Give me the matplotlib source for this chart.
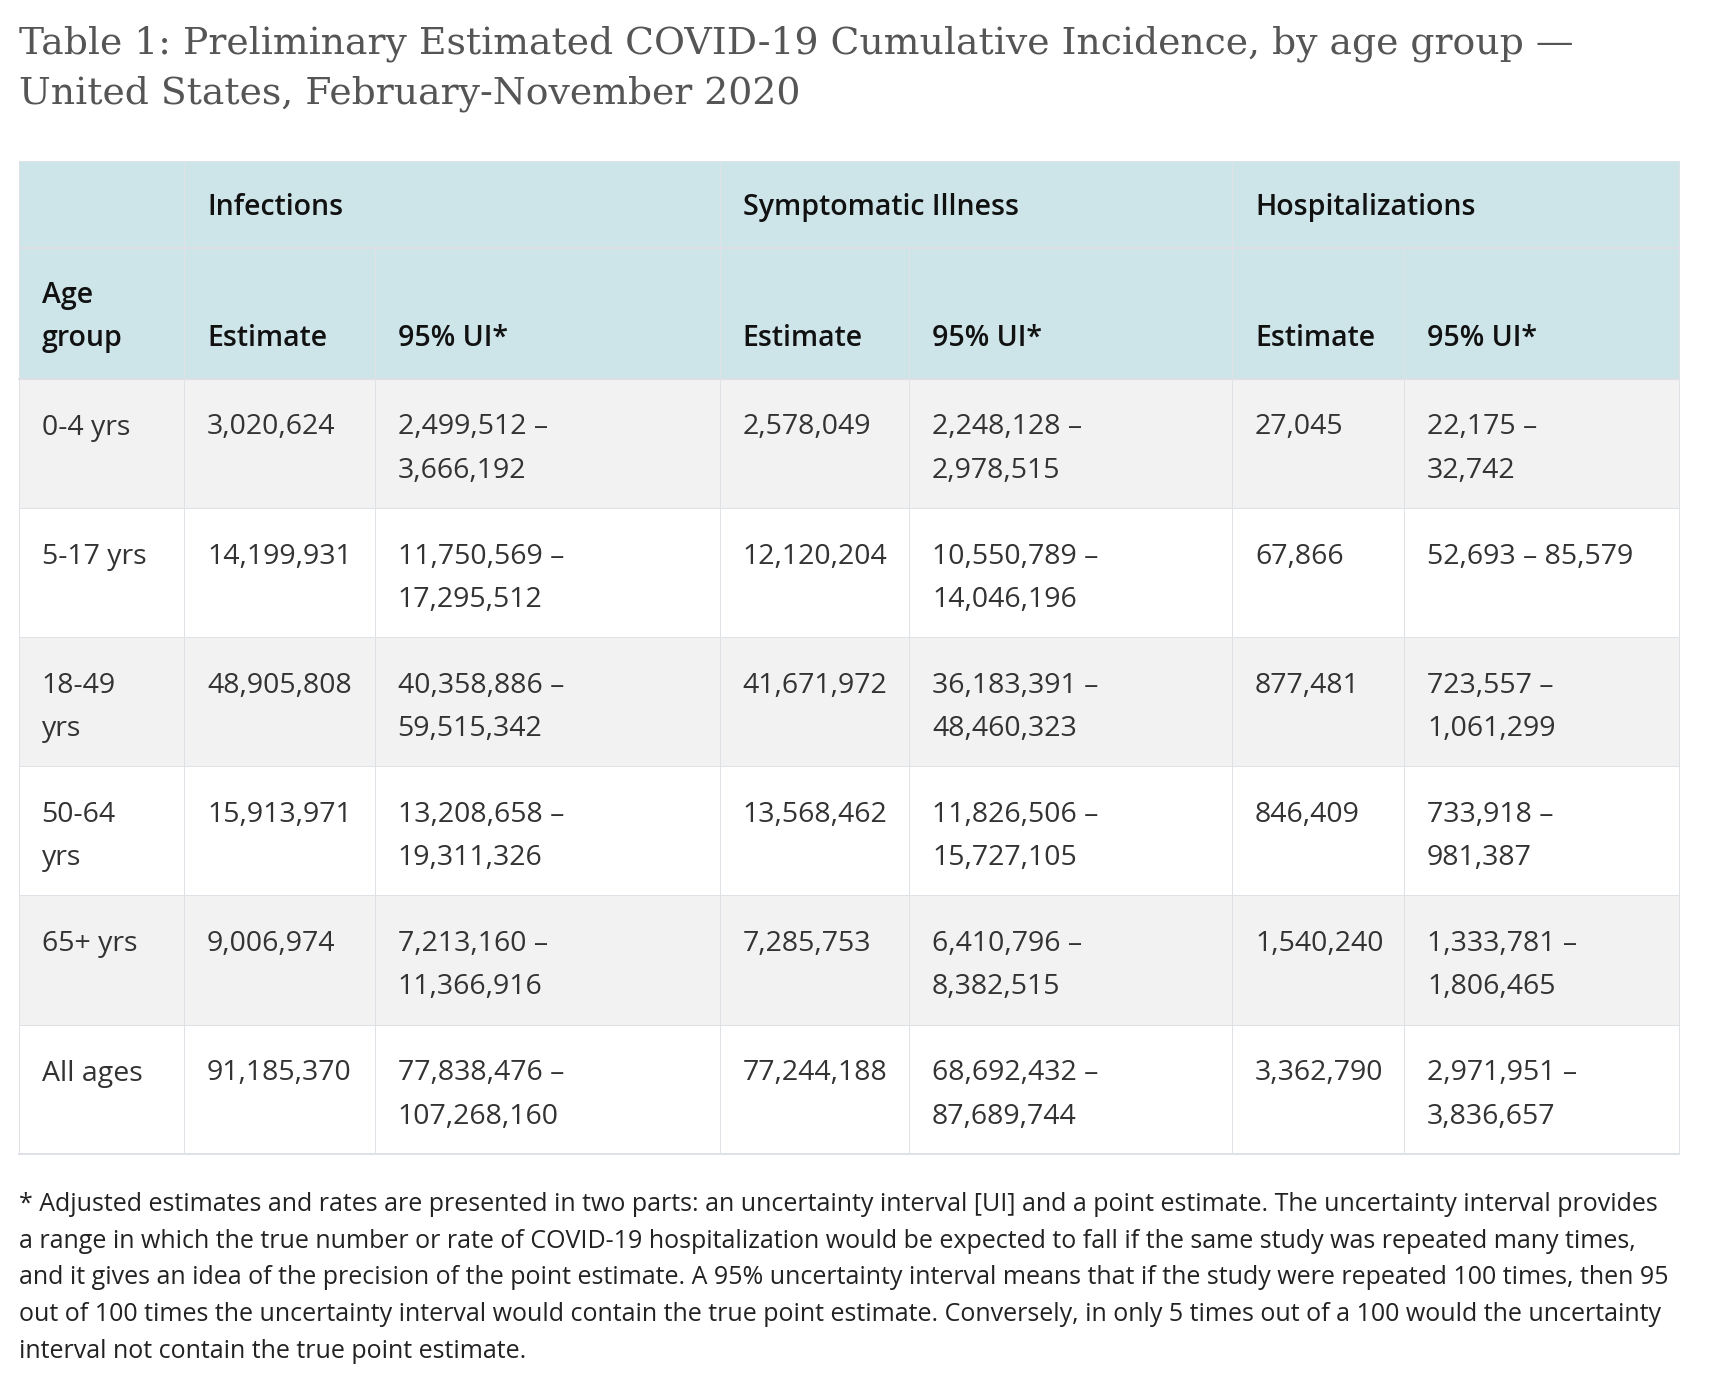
import matplotlib
matplotlib.use("Agg")
import matplotlib.pyplot as plt
from matplotlib.patches import Rectangle

# ---------------- data ----------------
title_lines = [
    "Table 1: Preliminary Estimated COVID-19 Cumulative Incidence, by age group \u2014",
    "United States, February-November 2020",
]
groups = ["Infections", "Symptomatic Illness", "Hospitalizations"]
sub_headers = ["Estimate", "95% UI*"]
age_header = "Age\ngroup"
age_groups = ["0-4 yrs", "5-17 yrs", "18-49\nyrs", "50-64\nyrs", "65+ yrs", "All ages"]

inf_est = ["3,020,624", "14,199,931", "48,905,808", "15,913,971", "9,006,974", "91,185,370"]
inf_ui = ["2,499,512 \u2013\n3,666,192", "11,750,569 \u2013\n17,295,512", "40,358,886 \u2013\n59,515,342",
          "13,208,658 \u2013\n19,311,326", "7,213,160 \u2013\n11,366,916", "77,838,476 \u2013\n107,268,160"]
sym_est = ["2,578,049", "12,120,204", "41,671,972", "13,568,462", "7,285,753", "77,244,188"]
sym_ui = ["2,248,128 \u2013\n2,978,515", "10,550,789 \u2013\n14,046,196", "36,183,391 \u2013\n48,460,323",
          "11,826,506 \u2013\n15,727,105", "6,410,796 \u2013\n8,382,515", "68,692,432 \u2013\n87,689,744"]
hosp_est = ["27,045", "67,866", "877,481", "846,409", "1,540,240", "3,362,790"]
hosp_ui = ["22,175 \u2013\n32,742", "52,693 \u2013 85,579", "723,557 \u2013\n1,061,299",
           "733,918 \u2013\n981,387", "1,333,781 \u2013\n1,806,465", "2,971,951 \u2013\n3,836,657"]

footnote_lines = [
    "* Adjusted estimates and rates are presented in two parts: an uncertainty interval [UI] and a point estimate. The uncertainty interval provides",
    "a range in which the true number or rate of COVID-19 hospitalization would be expected to fall if the same study was repeated many times,",
    "and it gives an idea of the precision of the point estimate. A 95% uncertainty interval means that if the study were repeated 100 times, then 95",
    "out of 100 times the uncertainty interval would contain the true point estimate. Conversely, in only 5 times out of a 100 would the uncertainty",
    "interval not contain the true point estimate.",
]

# ---------------- layout ----------------
W, H = 1717, 1389
col_x = [18.6, 184, 374.5, 719.5, 909, 1232, 1404, 1679]
table_top = 160.5
h1_bottom = 246.5
h2_top = 249.0
h2_bottom = 378.5
row_h = 129.2
pad = 23
line_gap = 43
header_bg = "#cde4e9"
stripe_bg = "#f2f2f2"
border = "#dee2e6"
hdr_color = "#111111"
txt_color = "#333333"
SANS = ["Open Sans", "DejaVu Sans"]
SERIF = ["DejaVu Serif"]
fs_cell = 20.5

fig = plt.figure(figsize=(W / 100, H / 100), dpi=100)
ax = fig.add_axes([0, 0, 1, 1])
ax.set_xlim(0, W)
ax.set_ylim(H, 0)
ax.axis("off")
renderer = fig.canvas.get_renderer()

# ---------------- title ----------------
title_base = [53, 103]
t0 = ax.text(19, title_base[0], title_lines[0], family=SERIF, fontsize=30,
             color="#555555", va="baseline", ha="left")
bb = t0.get_window_extent(renderer)
title_fs = 30 * (1556 / bb.width)
t0.set_fontsize(title_fs)
ax.text(19, title_base[1], title_lines[1], family=SERIF, fontsize=title_fs,
        color="#555555", va="baseline", ha="left")

# ---------------- backgrounds ----------------
x0, x1 = col_x[0], col_x[-1]
ax.add_patch(Rectangle((x0, table_top), x1 - x0, h2_bottom - table_top,
                       facecolor=header_bg, edgecolor="none", zorder=1))
ax.add_patch(Rectangle((x0, h1_bottom), x1 - x0, h2_top - h1_bottom,
                       facecolor="#dcdfe3", edgecolor="none", zorder=2))

n_rows = len(age_groups)
row_tops = [h2_bottom + i * row_h for i in range(n_rows)]
for i, rt in enumerate(row_tops):
    if i % 2 == 0:
        ax.add_patch(Rectangle((x0, rt), x1 - x0, row_h,
                               facecolor=stripe_bg, edgecolor="none", zorder=1))
table_bottom = row_tops[-1] + row_h

# ---------------- grid lines ----------------
lw = 1.0 * 72 / 100
for rt in row_tops[1:]:
    ax.plot([x0, x1], [rt, rt], color=border, lw=lw, zorder=3, solid_capstyle="butt")
ax.plot([x0, x1], [h2_bottom, h2_bottom], color="#dcdfe3", lw=2 * 72 / 100, zorder=3)
ax.plot([x0, x1], [table_bottom, table_bottom], color=border, lw=2 * 72 / 100, zorder=3)
ax.plot([x0, x1], [table_top, table_top], color=border, lw=lw, zorder=3)
for xv in (x0, x1):
    ax.plot([xv, xv], [table_top, table_bottom], color=border, lw=lw, zorder=3)
for ci in (1, 3, 5):
    ax.plot([col_x[ci], col_x[ci]], [table_top, h1_bottom], color=border, lw=lw, zorder=3)
for xv in col_x[1:-1]:
    ax.plot([xv, xv], [h2_top, table_bottom], color=border, lw=lw, zorder=3)


def cell_text(x, first_baseline, text, color, weight="normal", fs=fs_cell):
    for k, line in enumerate(text.split("\n")):
        ax.text(x, first_baseline + k * line_gap, line, family=SANS, fontsize=fs,
                color=color, weight=weight, va="baseline", ha="left", zorder=4)


# ---------------- header text ----------------
for gi, g in enumerate(groups):
    cell_text(col_x[1 + 2 * gi] + pad, 215, g, hdr_color, weight=600)

h2_last_base = 346
cell_text(col_x[0] + pad, h2_last_base - line_gap * (age_header.count("\n")), age_header,
          hdr_color, weight=600)
for gi in range(len(groups)):
    for si, s in enumerate(sub_headers):
        cell_text(col_x[1 + 2 * gi + si] + pad, h2_last_base, s, hdr_color, weight=600)

# ---------------- body ----------------
columns = [age_groups, inf_est, inf_ui, sym_est, sym_ui, hosp_est, hosp_ui]
for i, rt in enumerate(row_tops):
    for ci, col in enumerate(columns):
        cell_text(col_x[ci] + pad, rt + 56, col[i], txt_color)

# ---------------- footnote ----------------
f0 = ax.text(19, 1211, footnote_lines[0], family=SANS, fontsize=16,
             color="#222222", va="baseline", ha="left")
fb = f0.get_window_extent(renderer)
foot_fs = 16 * (1646 / fb.width)
f0.set_fontsize(foot_fs)
for k, line in enumerate(footnote_lines[1:], start=1):
    ax.text(19, 1211 + k * 36.7, line, family=SANS, fontsize=foot_fs,
            color="#222222", va="baseline", ha="left")

fig.savefig("out.png", dpi=100, facecolor="white")
